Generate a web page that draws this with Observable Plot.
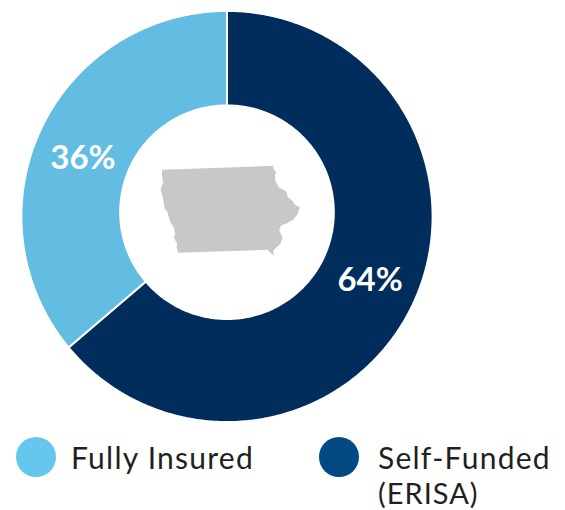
<!DOCTYPE html>
<html><head><meta charset="utf-8">
<script src="https://cdn.jsdelivr.net/npm/d3@7"></script>
<script src="https://cdn.jsdelivr.net/npm/@observablehq/plot@0.6"></script>
<style>
html,body{margin:0;padding:0;background:#fff}
#wrap{position:relative;width:565px;height:510px;overflow:hidden}
svg{display:block}
.sw{position:absolute;top:437px;width:40px;height:40px;border-radius:50%}
.lb{position:absolute;font:400 30px/30px Lato,sans-serif;color:#231f20;letter-spacing:1.25px;white-space:nowrap}
</style></head><body><div id="wrap"></div>
<script>
const categories = ["Self-Funded (ERISA)", "Fully Insured"];
const shares = [64, 36];
const labels = ["64%", "36%"];
const sliceColors = ["#002d5c", "#63bde2"];
const legendColors = ["#034a84", "#66c7ee"];
const iowaX = [161.7,272.7,273.3,276,274.3,275,278.3,286,287.3,292.7,293.3,299.3,297.3,292.7,286.7,280.7,278.7,282,280,272.7,273.3,266.7,177.7,176,176.7,173.3,174.7,173.3,170,168.7,166.7,164,162,160,162.7,161.3];
const iowaY = [169.3,165.3,169.3,172,174,180.7,186.7,191.3,196.7,200.7,203.3,206.7,213.3,219.3,222.7,224.7,229.3,237.3,243.3,250,255.3,249.3,252.3,246.7,243.3,237.3,233.3,227.3,221.7,218.3,210.7,208.3,195,189.3,181.7,174];

const cx = 226.5, cy = 216, R = 205.6, holeCy = 211.7, holeR = 107.8;
const W = 565, H = 425;
const total = d3.sum(shares);
let acc = 0;
const slices = shares.map((v, i) => { const s = {i, a0: acc / total * 2 * Math.PI, a1: (acc + v) / total * 2 * Math.PI}; acc += v; return s; });
const ring = [];
for (const s of slices) {
  const n = Math.ceil((s.a1 - s.a0) * 120);
  for (let k = 0; k <= n; k++) { const a = s.a0 + (s.a1 - s.a0) * k / n; ring.push({z: s.i, x: cx + R * Math.sin(a), y: cy - R * Math.cos(a)}); }
  ring.push({z: s.i, x: cx, y: holeCy});
}
const hole = d3.range(0, 360, 1).map(d => ({x: cx + holeR * Math.sin(d * Math.PI / 180), y: holeCy - holeR * Math.cos(d * Math.PI / 180)}));
const labelAngles = [113.5, 292.6];
const labelRadius = 156;
const labelData = labels.map((t, i) => {
  const a = labelAngles[i] * Math.PI / 180;
  return {t, x: cx + labelRadius * Math.sin(a), y: cy - labelRadius * Math.cos(a)};
});
const iowa = iowaX.map((x, i) => ({x, y: iowaY[i]}));

const chart = Plot.plot({
  width: W, height: H, margin: 0,
  x: {domain: [0, W], range: [0, W], axis: null},
  y: {domain: [0, H], range: [0, H], axis: null},
  marks: [
    Plot.line(ring, {x: "x", y: "y", z: "z", fill: d => sliceColors[d.z], stroke: "#fff", strokeWidth: 2, curve: "linear-closed"}),
    Plot.line(hole, {x: "x", y: "y", fill: "#fff", stroke: "none", curve: "linear-closed"}),
    Plot.line(iowa, {x: "x", y: "y", fill: "#c7c8ca", stroke: "none", curve: "linear-closed"}),
    Plot.text(labelData, {x: "x", y: "y", dy: 1.5, text: "t", fill: "#fff", fontSize: 33, fontWeight: 700, fontFamily: "Lato, sans-serif"})
  ]
});
const wrap = document.getElementById("wrap");
wrap.appendChild(chart);
const place = (cls, left, top, text, bg, ls, fs) => {
  const d = document.createElement("div");
  d.className = cls; d.style.left = left + "px";
  if (top != null) d.style.top = top + "px";
  if (text) d.textContent = text;
  if (bg) d.style.background = bg;
  if (ls != null) d.style.letterSpacing = ls + "px";
  if (fs != null) d.style.fontSize = fs + "px";
  wrap.appendChild(d);
};
place("sw", 16, null, null, legendColors[1]);
place("lb", 71, 442, categories[1]);
place("sw", 319, null, null, legendColors[0]);
place("lb", 378, 442, "Self-Funded");
place("lb", 378, 477.5, "(ERISA)", null, 1, 29);
</script></body></html>
